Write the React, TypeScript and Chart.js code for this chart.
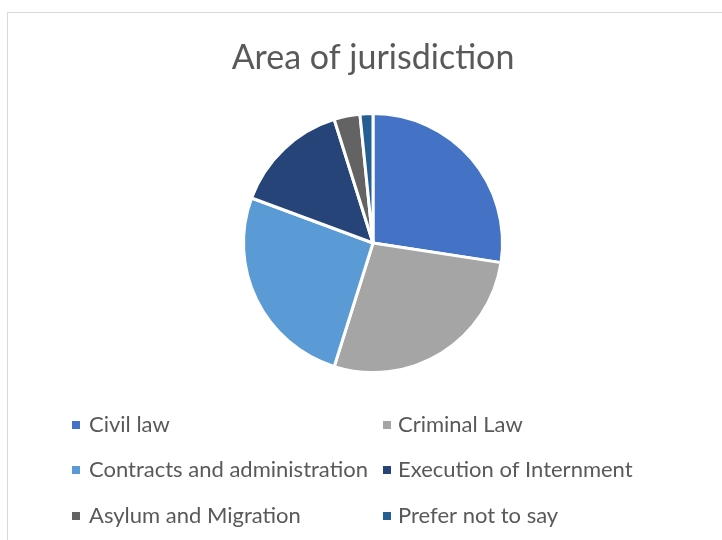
import React, { useEffect, useRef } from "react";
import { Chart, registerables } from "chart.js";

Chart.register(...registerables);

const titleText = "Area of jurisdiction";
const categories = [
  "Civil law",
  "Criminal Law",
  "Contracts and administration",
  "Execution of Internment",
  "Asylum and Migration",
  "Prefer not to say",
];
const counts = [17, 17, 16, 9, 2, 1];
const sliceColors = ["#4472C4", "#A5A5A5", "#5B9BD5", "#264478", "#636363", "#255E91"];

const FONT = "Lato, 'Open Sans', sans-serif";
const TEXT_COLOR = "#595959";

const framePlugin = {
  id: "frame",
  beforeDraw(chart: any) {
    const ctx = chart.ctx;
    ctx.save();
    ctx.fillStyle = "#ffffff";
    ctx.fillRect(0, 0, chart.width, chart.height);
    ctx.strokeStyle = "#d9d9d9";
    ctx.lineWidth = 1;
    ctx.strokeRect(7.5, 12.5, chart.width + 20, chart.height + 20);
    ctx.fillStyle = TEXT_COLOR;
    ctx.font = `34px ${FONT}`;
    ctx.textAlign = "center";
    ctx.textBaseline = "middle";
    ctx.fillText(titleText, 373, 58);
    ctx.restore();
  },
  afterDraw(chart: any) {
    const ctx = chart.ctx;
    const labels = chart.data.labels as string[];
    const colors = chart.data.datasets[0].backgroundColor as string[];
    const markX = [72, 383];
    const textX = [89, 398];
    const rowY = [425, 470, 516];
    ctx.save();
    ctx.font = `22px ${FONT}`;
    ctx.textAlign = "left";
    ctx.textBaseline = "middle";
    labels.forEach((lab, i) => {
      const c = i % 2;
      const cy = rowY[Math.floor(i / 2)];
      ctx.fillStyle = colors[i];
      ctx.fillRect(markX[c], cy - 4, 8, 8);
      ctx.fillStyle = TEXT_COLOR;
      ctx.fillText(lab, textX[c], cy);
    });
    ctx.restore();
  },
};

export default function App() {
  const ref = useRef<HTMLCanvasElement | null>(null);
  useEffect(() => {
    document.body.style.margin = "0";
    if (!ref.current) return;
    const chart = new Chart(ref.current, {
      type: "pie",
      data: {
        labels: categories,
        datasets: [
          {
            data: counts,
            backgroundColor: sliceColors,
            borderColor: "#ffffff",
            borderWidth: 3,
          },
        ],
      },
      options: {
        animation: false,
        responsive: true,
        maintainAspectRatio: false,
        layout: { padding: { left: 242, right: 218, top: 111, bottom: 165 } },
        plugins: {
          legend: { display: false },
          title: { display: false },
          tooltip: { enabled: false },
        },
      },
      plugins: [framePlugin],
    });
    return () => chart.destroy();
  }, []);
  return (
    <div style={{ width: 722, height: 540, position: "relative" }}>
      <canvas ref={ref} />
    </div>
  );
}
